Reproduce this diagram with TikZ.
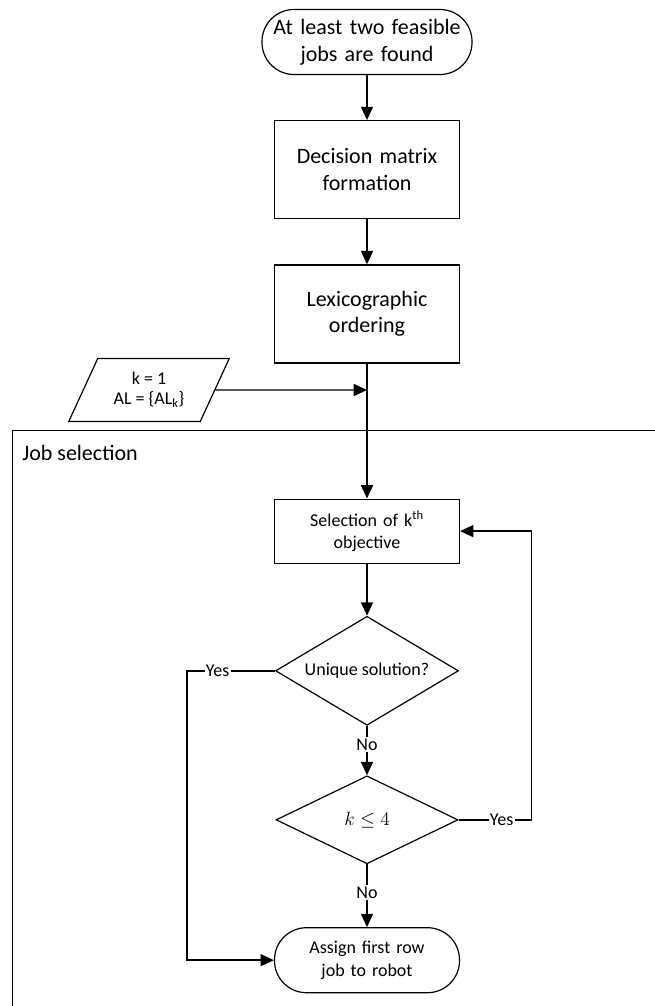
\documentclass[tikz,border=0pt]{standalone}
\usepackage{fontspec}
\setmainfont{Carlito}
\usepackage{tikz}
\usetikzlibrary{shapes,arrows,arrows.meta,positioning}

\begin{document}
\begin{tikzpicture}[x=0.75pt, y=-0.75pt,
    block/.style={rectangle, draw, line width=0.9pt, text width=125pt, text centered, minimum width=138.75pt, minimum height=73.5pt, font=\fontsize{16.5}{20}\selectfont},
    smallblock/.style={rectangle, draw, line width=0.9pt, text width=125pt, text centered, minimum width=138.75pt, minimum height=48pt, font=\fontsize{13.5}{17}\selectfont},
    term/.style={rectangle, draw, line width=0.9pt, rounded corners=24pt, text centered, minimum height=48.75pt},
    decision/.style={diamond, draw, line width=0.9pt, inner sep=1pt, text centered, font=\fontsize{13.5}{17}\selectfont},
    io/.style={trapezium, trapezium left angle=63, trapezium right angle=117, trapezium stretches=true, draw, line width=0.9pt, align=center, minimum width=121.5pt, minimum height=47.25pt, font=\fontsize{13.5}{15}\selectfont},
    lbl/.style={fill=white, inner sep=1pt, anchor=center, font=\fontsize{13.5}{16}\selectfont},
    line/.style={draw, -{Triangle[length=10pt,width=9pt]}, line width=1.1pt}]

    \useasboundingbox (0,0) rectangle (655,1006);

    % Nodes
    \node [term, minimum width=157.5pt, text width=150pt, font=\fontsize{16.5}{20}\selectfont] (found) at (367,42) {At least two feasible \\ jobs are found};
    \node [block, below=33.75pt of found] (matrix) {Decision matrix \\ formation};
    \node [block, below=33.75pt of matrix] (lex) {Lexicographic \\ ordering};

    % Input data
    \node [io] (init) at (149,390) {k = 1 \\ AL = \{AL\textsubscript{k}\}};
    \coordinate (join) at (lex |- init);

    % Job selection part
    \node [smallblock, below=101.25pt of lex] (sel) {Selection of k\textsuperscript{th} \\ objective};
    \node [decision, aspect=1.68, minimum width=137.25pt, minimum height=81.75pt, below=39pt of sel] (unique) {Unique solution?};
    \node [decision, aspect=2.07, minimum width=136.5pt, minimum height=66pt, font=\fontsize{15.5}{17}\selectfont, below=37pt of unique] (kcheck) {$k \leq 4$};
    \node [term, minimum width=138.75pt, text width=125pt, font=\fontsize{13.5}{17}\selectfont, below=47pt of kcheck] (assign) {Assign first row \\ job to robot};

    % Frame
    \draw [line width=0.7pt] (655,430) -- (12,430) -- (12,1006);
    \node [anchor=west, inner sep=0pt, font=\fontsize{16.5}{20}\selectfont] (jobsel) at (22,453) {Job selection};

    % Paths
    \path [line] (found) -- (matrix);
    \path [line] (matrix) -- (lex);
    \path [line] (lex) -- (sel);
    \path [line] (init) -- (join);
    \path [line] (sel) -- (unique);
    \path [line] (unique) -- (kcheck) node [lbl, pos=0.38] {No};
    \path [line] (kcheck) -- (assign) node [lbl, pos=0.45] {No};

    % Yes branches
    \path [line] (unique.west) -- ++(-88,0) node [lbl, pos=0.65] {Yes} |- (assign.west);
    \path [line] (kcheck.east) -- ++(73,0) node [lbl, pos=0.59] {Yes} |- (sel.east);

\end{tikzpicture}
\end{document}
